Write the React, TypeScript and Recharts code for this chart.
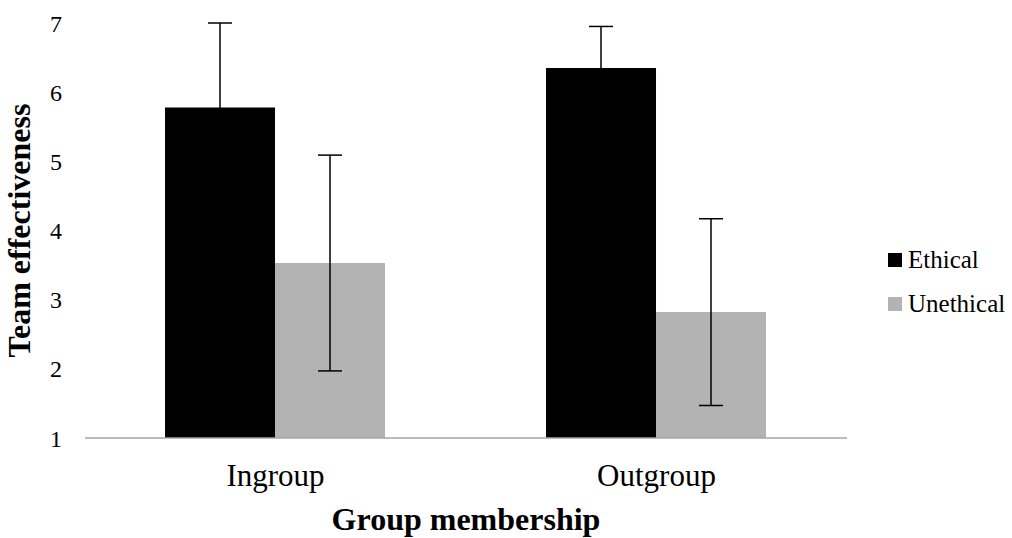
import { BarChart, Bar, XAxis, YAxis, ErrorBar, Legend, Label } from 'recharts'

const groups = ['Ingroup', 'Outgroup']
const ethical = [5.78, 6.35]
const ethicalErr = [1.22, 0.6]
const unethical = [3.53, 2.82]
const unethicalErr = [1.56, 1.35]
const yTicks = [1, 2, 3, 4, 5, 6, 7]

const data = groups.map((g, i) => ({
  group: g,
  ethical: ethical[i],
  ethicalErr: ethicalErr[i],
  unethical: unethical[i],
  unethicalErr: unethicalErr[i],
}))

const font = 'Liberation Serif, Times New Roman, serif'

function LegendBox({ payload }: any) {
  return (
    <div style={{ fontFamily: font, fontSize: 25, color: '#000' }}>
      {(payload || []).map((p: any) => (
        <div key={p.value} style={{ display: 'flex', alignItems: 'center', height: 44 }}>
          <span style={{ width: 14, height: 14, background: p.color, marginRight: 6, display: 'inline-block' }} />
          <span>{p.value}</span>
        </div>
      ))}
    </div>
  )
}

export default function App() {
  return (
    <div style={{ position: 'absolute', left: 0, top: 0, width: 1012, height: 538, background: '#fff' }}>
      <BarChart
        width={1012}
        height={538}
        data={data}
        margin={{ top: 23, right: 41, bottom: 0, left: 0 }}
        barCategoryGap='21%'
        barGap={0}
      >
        <XAxis
          dataKey='group'
          height={100}
          axisLine={{ stroke: '#a6a6a6', strokeWidth: 1.5 }}
          tickLine={false}
          tickSize={0}
          tickMargin={26}
          tick={{ fontFamily: font, fontSize: 31, fill: '#000' }}
        >
          <Label
            value='Group membership'
            position='insideBottom'
            offset={8}
            style={{ fontFamily: font, fontSize: 32, fontWeight: 'bold', fill: '#000' }}
          />
        </XAxis>
        <YAxis
          width={85}
          domain={[1, 7]}
          ticks={yTicks}
          interval={0}
          axisLine={false}
          tickLine={false}
          tickSize={0}
          tickMargin={23}
          tick={{ fontFamily: font, fontSize: 24, fill: '#000' }}
        >
          <Label
            value='Team effectiveness'
            angle={-90}
            position='insideLeft'
            offset={19}
            style={{ textAnchor: 'middle', fontFamily: font, fontSize: 32, fontWeight: 'bold', fill: '#000' }}
          />
        </YAxis>
        <Legend
          layout='vertical'
          align='right'
          verticalAlign='middle'
          content={<LegendBox />}
          wrapperStyle={{ left: 888, top: 238, right: 'auto', width: 124 }}
        />
        <Bar dataKey='ethical' name='Ethical' fill='#000000' isAnimationActive={false}>
          <ErrorBar dataKey='ethicalErr' width={12} stroke='#000' strokeWidth={1.5} />
        </Bar>
        <Bar dataKey='unethical' name='Unethical' fill='#b3b3b3' isAnimationActive={false}>
          <ErrorBar dataKey='unethicalErr' width={12} stroke='#000' strokeWidth={1.5} />
        </Bar>
      </BarChart>
    </div>
  )
}
